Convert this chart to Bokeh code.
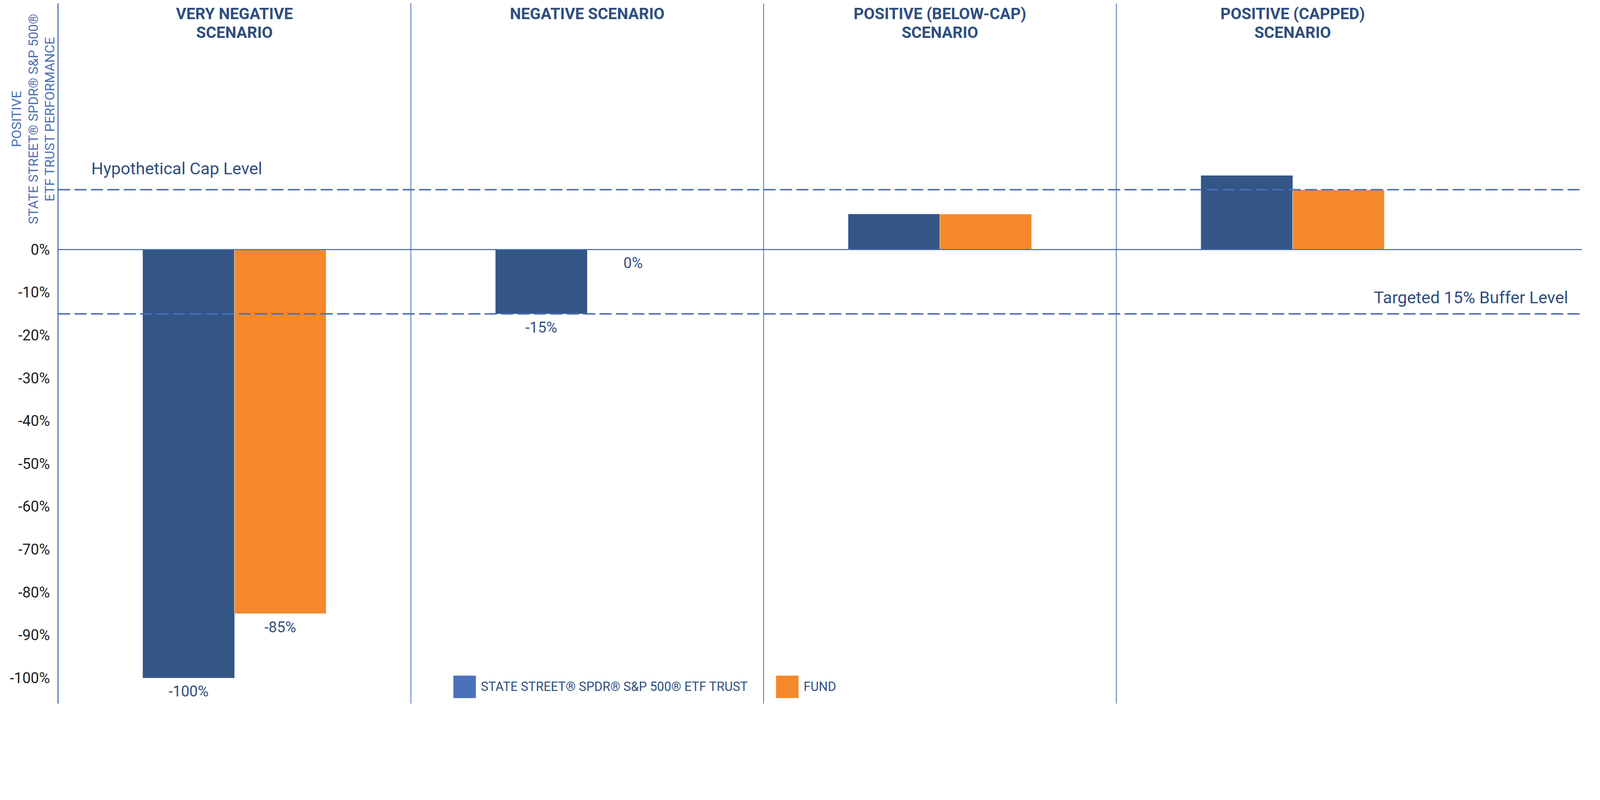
import numpy as np
from bokeh.plotting import figure
from bokeh.models import (Range1d, Span, FixedTicker, Legend, LegendItem,
                          ColumnDataSource)
from bokeh.core.properties import value
from bokeh.embed import file_html
from bokeh.resources import INLINE

# ---------------- data ----------------
SCENARIOS = ["VERY NEGATIVE\nSCENARIO", "NEGATIVE SCENARIO",
             "POSITIVE (BELOW-CAP)\nSCENARIO", "POSITIVE (CAPPED)\nSCENARIO"]
SERIES = ["STATE STREET® SPDR® S&P 500® ETF TRUST", "FUND"]
SPY_VALUES = [-100, -15, 8.3, 17.3]
FUND_VALUES = [-85, 0, 8.3, 14]
SPY_LABELS = ["-100%", "-15%", "", ""]
FUND_LABELS = ["-85%", "0%", "", ""]
CAP_LEVEL = 14
BUFFER_LEVEL = -15
CAP_TEXT = "Hypothetical Cap Level"
BUFFER_TEXT = "Targeted 15% Buffer Level"
Y_TICKS = [0, -10, -20, -30, -40, -50, -60, -70, -80, -90, -100]
Y_TICK_LABELS = ["0%", "-10%", "-20%", "-30%", "-40%", "-50%", "-60%",
                 "-70%", "-80%", "-90%", "-100%"]
Y_LABEL_LINES = ["POSITIVE", "STATE STREET® SPDR® S&P 500®", "ETF TRUST PERFORMANCE"]

# ---------------- styles ----------------
BAR_BLUE = "#345687"
BAR_ORANGE = "#f4882b"
LEGEND_BLUE = "#4a71b9"
LINE_BLUE = "#4a6fb6"
NAVY = "#2f4e80"
TICK_COLOR = "#1f1f1f"
FONT = "Roboto"

X_START, X_END = 0.0, 4.3198
X_LO = -0.1553
Y_BOTTOM, Y_TOP = -106.0, 57.5
Y_LABEL_CENTER = 30.5
BAR_W = 0.26

n = len(SCENARIOS)
centers = np.arange(n) + 0.5

p = figure(width=4080, height=1904, x_range=Range1d(X_LO, X_END),
           y_range=Range1d(Y_BOTTOM, Y_TOP), output_backend="svg",
           toolbar_location=None, x_axis_location=None,
           min_border_left=8, min_border_right=31, min_border_top=8,
           min_border_bottom=104)
p.outline_line_color = None
p.xgrid.visible = False
p.ygrid.visible = False
p.background_fill_color = "white"
p.border_fill_color = "white"

# y axis, drawn at x = 0 inside the frame
ax = p.yaxis[0]
ax.fixed_location = X_START
ax.ticker = FixedTicker(ticks=Y_TICKS)
ax.major_label_overrides = {t: l for t, l in zip(Y_TICKS, Y_TICK_LABELS)}
ax.axis_line_color = LINE_BLUE
ax.axis_line_width = 2.8
ax.major_tick_line_color = None
ax.minor_tick_line_color = None
ax.major_tick_out = 0
ax.major_tick_in = 0
ax.major_label_standoff = 21
ax.major_label_text_font = FONT
ax.major_label_text_font_size = "38px"
ax.major_label_text_color = TICK_COLOR

# bars
spy_src = ColumnDataSource(dict(x=centers - BAR_W / 2, top=SPY_VALUES))
fund_src = ColumnDataSource(dict(x=centers + BAR_W / 2, top=FUND_VALUES))
p.vbar(x="x", top="top", bottom=0, width=BAR_W, source=spy_src,
       fill_color=BAR_BLUE, line_color=None)
p.vbar(x="x", top="top", bottom=0, width=BAR_W, source=fund_src,
       fill_color=BAR_ORANGE, line_color="white", line_width=1)

# reference lines (start at the axis)
p.segment(x0=[X_START], x1=[X_END], y0=[0], y1=[0], line_color=LINE_BLUE, line_width=2.8)
p.segment(x0=[X_START] * 2, x1=[X_END] * 2, y0=[CAP_LEVEL, BUFFER_LEVEL],
          y1=[CAP_LEVEL, BUFFER_LEVEL], line_color=LINE_BLUE, line_width=3.75,
          line_dash="31 11")
for i in range(1, n):
    p.add_layout(Span(location=i, dimension="height", line_color=LINE_BLUE, line_width=2))

# scenario titles
p.text(x=centers, y=[Y_TOP] * n, text=SCENARIOS, text_align="center",
       text_baseline="top", y_offset=2, text_font=value(FONT),
       text_font_style="bold", text_font_size="40.5px", text_color=NAVY,
       text_line_height=1.0)

# data labels
lx, ly, lt = [], [], []
for xs, vals, labs in ((centers - BAR_W / 2, SPY_VALUES, SPY_LABELS),
                       (centers + BAR_W / 2, FUND_VALUES, FUND_LABELS)):
    for xx, vv, ll in zip(xs, vals, labs):
        if ll:
            lx.append(xx); ly.append(vv); lt.append(ll)
p.text(x=lx, y=ly, text=lt, text_align="center", text_baseline="middle",
       y_offset=34.5, text_font=value(FONT), text_font_size="38px", text_color=NAVY)

# level annotations
p.text(x=[X_START], y=[CAP_LEVEL], text=[CAP_TEXT], text_align="left",
       text_baseline="middle", x_offset=85, y_offset=-54, text_font=value(FONT),
       text_font_size="43px", text_color=NAVY)
p.text(x=[X_END], y=[BUFFER_LEVEL], text=[BUFFER_TEXT], text_align="right",
       text_baseline="middle", x_offset=-35, y_offset=-42, text_font=value(FONT),
       text_font_size="43px", text_color=NAVY)

# rotated y-axis label (three lines)
p.text(x=[X_START] * 3, y=[Y_LABEL_CENTER] * 3, text=Y_LABEL_LINES,
       x_offset=[-107, -64, -21.5], angle=np.pi / 2, text_align="center",
       text_baseline="middle", text_font=value(FONT), text_font_size="34px",
       text_color=LINE_BLUE)

# legend swatches: zero-height bars that only carry the legend colours
sw_src = ColumnDataSource(dict(x=centers[:1], top=[0]))
d_blue = p.vbar(x="x", top="top", bottom=0, width=BAR_W, source=sw_src,
                fill_color=LEGEND_BLUE, line_color=None)
d_orange = p.vbar(x="x", top="top", bottom=0, width=BAR_W, source=sw_src,
                  fill_color=BAR_ORANGE, line_color=None)
legend = Legend(items=[LegendItem(label=SERIES[0], renderers=[d_blue]),
                       LegendItem(label=SERIES[1], renderers=[d_orange])],
                orientation="horizontal", location=(1145, 7),
                glyph_width=72, glyph_height=72, label_standoff=6, spacing=65,
                padding=0, margin=0, background_fill_alpha=0, border_line_color=None,
                label_text_font=FONT, label_text_font_size="32.4px",
                label_text_color=NAVY)
p.add_layout(legend)

open("out.html", "w").write(file_html(p, INLINE))
